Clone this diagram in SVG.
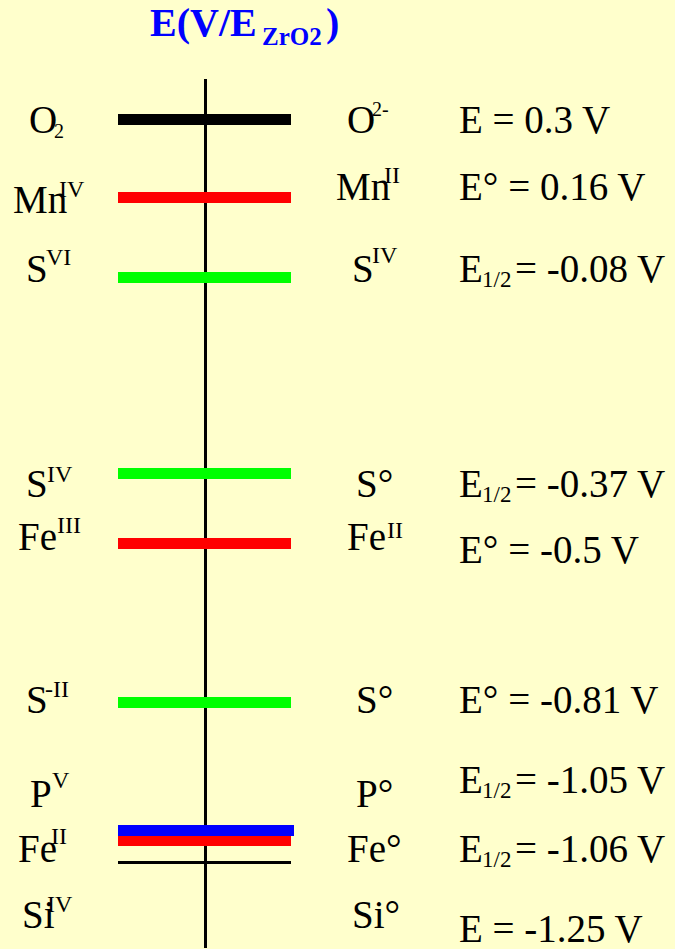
<svg xmlns="http://www.w3.org/2000/svg" width="675" height="949" viewBox="0 0 675 949">
<style>
.t{font-family:"Liberation Serif","Times New Roman",serif;font-size:39px;fill:#000}
.s{font-family:"Liberation Serif","Times New Roman",serif;font-size:24px;fill:#000}
.o{font-family:"Liberation Serif","Times New Roman",serif;font-size:20px;fill:#000}
.h{font-family:"Liberation Serif","Times New Roman",serif;font-size:23px;fill:#000}
.title{font-family:"Liberation Serif","Times New Roman",serif;font-weight:bold;fill:#0000FF}
.blk{fill:#000}.red{fill:#FF0000}.grn{fill:#00FF00}.blu{fill:#0000FF}
</style>
<rect width="675" height="949" fill="#FFFFCC"/>
<g id="title">
<text class="title" x="150" y="36" font-size="40">E(V/E</text>
<text class="title" x="262" y="45" font-size="25">ZrO2</text>
<text class="title" x="326" y="36" font-size="40">)</text>
</g>
<g id="connectors">
<rect x="204" y="79" width="3" height="869" fill="#000"/>
</g>
<g id="o2">
<rect class="blk" x="118" y="114" width="173" height="11"/>
<text class="t" x="29" y="133">O</text><text class="o" x="54" y="138">2</text>
<text class="t" x="347" y="133">O</text><text class="o" x="372" y="116">2-</text>
<text class="t" x="459" y="133">E = 0.3 V</text>
</g>
<g id="mn">
<rect class="red" x="118" y="192" width="173" height="11"/>
<text class="t" x="13" y="213">Mn</text><text class="s" x="59" y="197">IV</text>
<text class="t" x="336" y="200">Mn</text><text class="s" x="384" y="183">II</text>
<text class="t" x="459" y="200">E° = 0.16 V</text>
</g>
<g id="s6">
<rect class="grn" x="118" y="272" width="173" height="11"/>
<text class="t" x="26" y="282">S</text><text class="s" x="46" y="265">VI</text>
<text class="t" x="352" y="282">S</text><text class="s" x="372" y="263">IV</text>
<text class="t" x="459" y="282">E</text><text class="h" x="482" y="287">1/2</text><text class="t" x="515" y="282">= -0.08 V</text>
</g>
<g id="s4">
<rect class="grn" x="118" y="468" width="173" height="11"/>
<text class="t" x="26" y="497">S</text><text class="s" x="47" y="482">IV</text>
<text class="t" x="356" y="497">S°</text>
<text class="t" x="459" y="497">E</text><text class="h" x="482" y="502">1/2</text><text class="t" x="515" y="497">= -0.37 V</text>
</g>
<g id="fe3">
<rect class="red" x="118" y="538" width="173" height="11"/>
<text class="t" x="18" y="550">Fe</text><text class="s" x="57" y="533">III</text>
<text class="t" x="347" y="550">Fe</text><text class="s" x="387" y="538">II</text>
<text class="t" x="459" y="563">E° = -0.5 V</text>
</g>
<g id="s-2">
<rect class="grn" x="118" y="697" width="173" height="11"/>
<text class="t" x="26" y="713">S</text><text class="s" x="45" y="697">-II</text>
<text class="t" x="356" y="713">S°</text>
<text class="t" x="459" y="713">E° = -0.81 V</text>
</g>
<g id="p5">
<rect class="blu" x="118" y="825" width="176" height="11"/>
<text class="t" x="30" y="807">P</text><text class="s" x="52" y="788">V</text>
<text class="t" x="356" y="807">P°</text>
<text class="t" x="459" y="793">E</text><text class="h" x="482" y="798">1/2</text><text class="t" x="515" y="793">= -1.05 V</text>
</g>
<g id="fe2">
<rect class="red" x="118" y="836" width="173" height="10"/>
<text class="t" x="18" y="862">Fe</text><text class="s" x="51" y="844">II</text>
<text class="t" x="347" y="862">Fe°</text>
<text class="t" x="459" y="862">E</text><text class="h" x="482" y="867">1/2</text><text class="t" x="515" y="862">= -1.06 V</text>
</g>
<g id="si4">
<rect class="blk" x="118" y="861" width="173" height="3"/>
<text class="t" x="22" y="928">Si</text><text class="s" x="47" y="912">IV</text>
<text class="t" x="352" y="928">Si°</text>
<text class="t" x="459" y="942">E = -1.25 V</text>
</g>
</svg>
